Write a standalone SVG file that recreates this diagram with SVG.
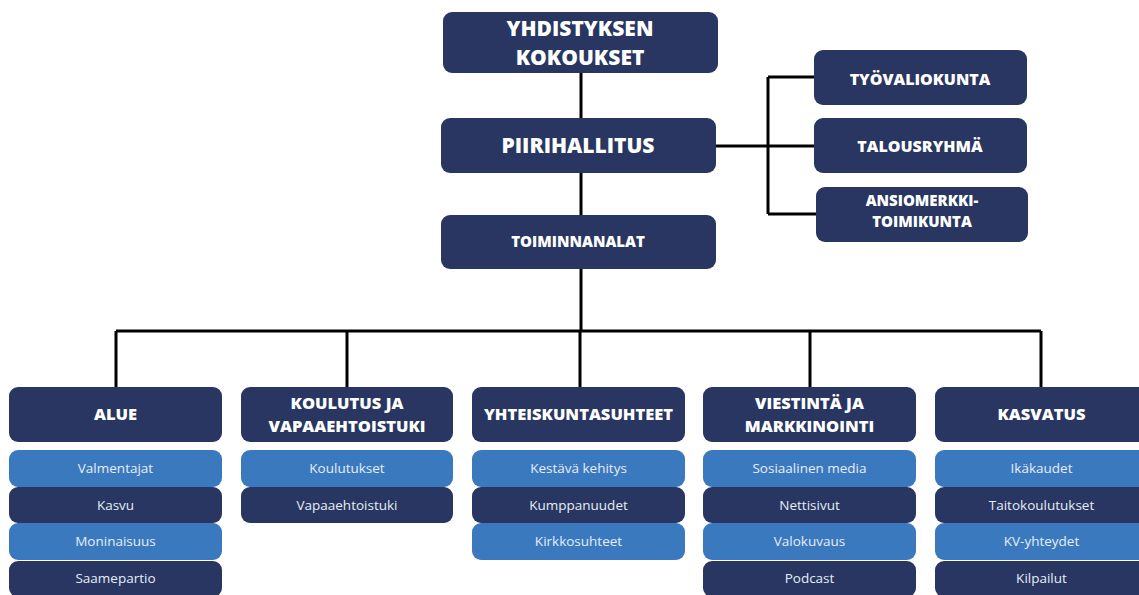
<svg xmlns="http://www.w3.org/2000/svg" width="1139" height="595" viewBox="0 0 1139 595">
<style>
.d{fill:#283661}
.l{fill:#3b79bf}
.h{font-family:"Open Sans","Liberation Sans",sans-serif;font-weight:800;fill:#ffffff;text-anchor:middle}
.s{font-family:"Open Sans","Liberation Sans",sans-serif;font-size:13.5px;fill:#e6edf7;text-anchor:middle}
.c{stroke:#000;stroke-width:3;fill:none}
</style>
<rect width="1139" height="595" fill="#ffffff"/>
<g id="connectors">
<path class="c" d="M581 73V118M581 173V215M581 269V331M716 146H814M768 77V214M768 77H814M768 214H816M116 331H1041M116 331V388M347 331V388M580 331V388M810 331V388M1041 331V388"/>
</g>
<g id="yhdistyksen"><rect class="d" x="443" y="12" width="275" height="61" rx="9"/><text class="h" font-size="21"><tspan x="580" y="36">YHDISTYKSEN</tspan><tspan x="580" y="65">KOKOUKSET</tspan></text></g>
<g id="piirihallitus"><rect class="d" x="441" y="118" width="275" height="55" rx="9"/><text class="h" font-size="21" x="578" y="153">PIIRIHALLITUS</text></g>
<g id="toiminnanalat"><rect class="d" x="441" y="215" width="275" height="54" rx="9"/><text class="h" font-size="15" x="578" y="247">TOIMINNANALAT</text></g>
<g id="tyovaliokunta"><rect class="d" x="814" y="50" width="213" height="55" rx="9"/><text class="h" font-size="16" x="920" y="85">TYÖVALIOKUNTA</text></g>
<g id="talousryhma"><rect class="d" x="814" y="118" width="213" height="55" rx="9"/><text class="h" font-size="16" x="920" y="152">TALOUSRYHMÄ</text></g>
<g id="ansiomerkki"><rect class="d" x="816" y="187" width="212" height="55" rx="9"/><text class="h" font-size="15"><tspan x="922" y="206">ANSIOMERKKI-</tspan><tspan x="922" y="227">TOIMIKUNTA</tspan></text></g>

<g id="alue">
<rect class="d" x="9" y="387" width="213" height="55" rx="9"/><text class="h" font-size="16.5" x="115.5" y="420">ALUE</text>
<rect class="l" x="9" y="450" width="213" height="37" rx="9"/><text class="s" x="115.5" y="473">Valmentajat</text>
<rect class="d" x="9" y="487" width="213" height="36" rx="9"/><text class="s" x="115.5" y="510">Kasvu</text>
<rect class="l" x="9" y="523" width="213" height="37" rx="9"/><text class="s" x="115.5" y="546">Moninaisuus</text>
<rect class="d" x="9" y="561" width="213" height="36" rx="9"/><text class="s" x="115.5" y="583">Saamepartio</text>
</g>
<g id="koulutus">
<rect class="d" x="241" y="387" width="212" height="55" rx="9"/><text class="h" font-size="16.5"><tspan x="347" y="409">KOULUTUS JA</tspan><tspan x="347" y="432">VAPAAEHTOISTUKI</tspan></text>
<rect class="l" x="241" y="450" width="212" height="37" rx="9"/><text class="s" x="347" y="473">Koulutukset</text>
<rect class="d" x="241" y="487" width="212" height="36" rx="9"/><text class="s" x="347" y="510">Vapaaehtoistuki</text>
</g>
<g id="yhteiskunta">
<rect class="d" x="472" y="387" width="213" height="55" rx="9"/><text class="h" font-size="16.5" x="578.5" y="420">YHTEISKUNTASUHTEET</text>
<rect class="l" x="472" y="450" width="213" height="37" rx="9"/><text class="s" x="578.5" y="473">Kestävä kehitys</text>
<rect class="d" x="472" y="487" width="213" height="36" rx="9"/><text class="s" x="578.5" y="510">Kumppanuudet</text>
<rect class="l" x="472" y="523" width="213" height="37" rx="9"/><text class="s" x="578.5" y="546">Kirkkosuhteet</text>
</g>
<g id="viestinta">
<rect class="d" x="703" y="387" width="213" height="55" rx="9"/><text class="h" font-size="16.5"><tspan x="809.5" y="409">VIESTINTÄ JA</tspan><tspan x="809.5" y="432">MARKKINOINTI</tspan></text>
<rect class="l" x="703" y="450" width="213" height="37" rx="9"/><text class="s" x="809.5" y="473">Sosiaalinen media</text>
<rect class="d" x="703" y="487" width="213" height="36" rx="9"/><text class="s" x="809.5" y="510">Nettisivut</text>
<rect class="l" x="703" y="523" width="213" height="37" rx="9"/><text class="s" x="809.5" y="546">Valokuvaus</text>
<rect class="d" x="703" y="561" width="213" height="36" rx="9"/><text class="s" x="809.5" y="583">Podcast</text>
</g>
<g id="kasvatus">
<rect class="d" x="935" y="387" width="213" height="55" rx="9"/><text class="h" font-size="16.5" x="1041.5" y="420">KASVATUS</text>
<rect class="l" x="935" y="450" width="213" height="37" rx="9"/><text class="s" x="1041.5" y="473">Ikäkaudet</text>
<rect class="d" x="935" y="487" width="213" height="36" rx="9"/><text class="s" x="1041.5" y="510">Taitokoulutukset</text>
<rect class="l" x="935" y="523" width="213" height="37" rx="9"/><text class="s" x="1041.5" y="546">KV-yhteydet</text>
<rect class="d" x="935" y="561" width="213" height="36" rx="9"/><text class="s" x="1041.5" y="583">Kilpailut</text>
</g>
</svg>
